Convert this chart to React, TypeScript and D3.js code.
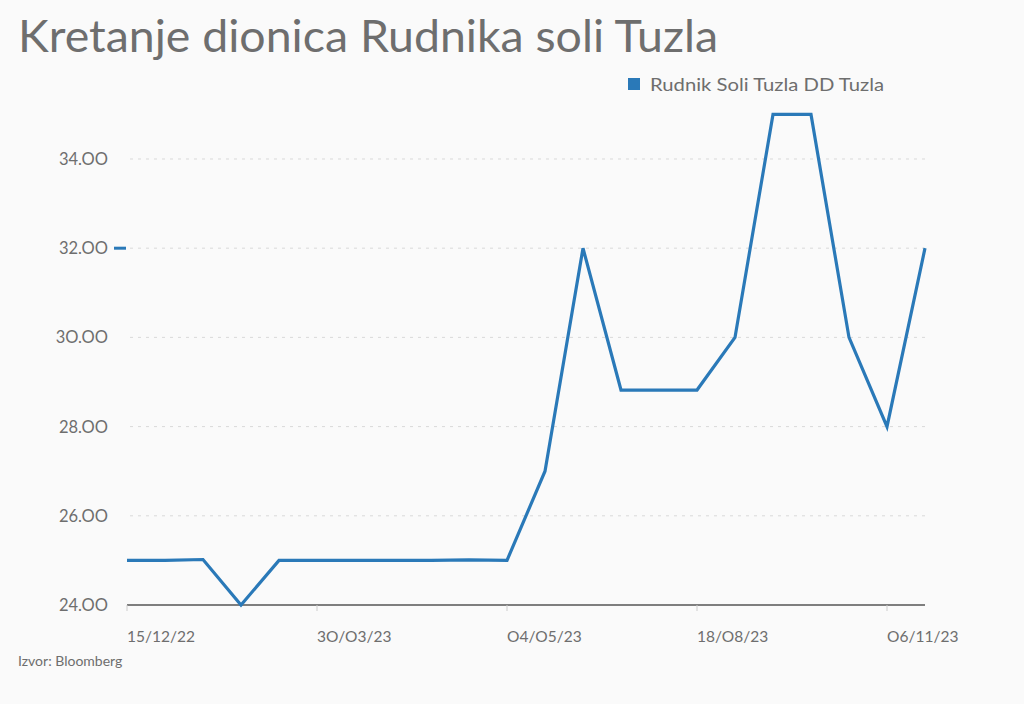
import React from "react";
import * as d3 from "d3";

const title = "Kretanje dionica Rudnika soli Tuzla";
const seriesName = "Rudnik Soli Tuzla DD Tuzla";
const source = "Izvor: Bloomberg";
const values = [25, 25, 25.02, 24, 25, 25, 25, 25, 25, 25.01, 25, 27, 32, 28.82, 28.82, 28.82, 30, 35, 35, 30, 28, 32];
const tickIdx = [0, 5, 10, 15, 20];
const tickLabels = ["15/12/22", "3O/O3/23", "O4/O5/23", "18/O8/23", "O6/11/23"];
const yTicks = [24, 26, 28, 30, 32, 34];

const W = 1024, H = 704;
const LINE = "#2a79b8";
const TXT = "#6e6e6e";
const FONT = "Lato, 'Noto Sans', sans-serif";

export default function App() {
  const x = d3.scaleLinear().domain([0, values.length - 1]).range([127, 925]);
  const y = d3.scaleLinear().domain([24, 34]).range([605, 159]);
  const line = d3.line<number>().x((_, i) => x(i)).y((d) => y(d));
  const last = values[values.length - 1];
  return (
    <svg width={W} height={H} style={{ position: "absolute", left: 0, top: 0, background: "#fafafa" }} fontFamily={FONT}>
      <rect width={W} height={H} fill="#fafafa" />
      <text x={18} y={52} fontSize={45} fill={TXT} textLength={700} lengthAdjust="spacingAndGlyphs">{title}</text>
      <rect x={628} y={78} width={12} height={12} fill={LINE} />
      <text x={650} y={91} fontSize={18} fill={TXT} textLength={234} lengthAdjust="spacingAndGlyphs">{seriesName}</text>
      {yTicks.map((t) => (
        <g key={t}>
          {t !== 24 && (
            <line x1={130} x2={925} y1={y(t)} y2={y(t)} stroke="#d9d9d9" strokeWidth={1} strokeDasharray="3,5" />
          )}
          <text x={108} y={y(t) + 6} fontSize={16.5} fill={TXT} textAnchor="end">{t.toFixed(2).replace(/0/g, "O")}</text>
        </g>
      ))}
      <line x1={114} x2={126} y1={y(last)} y2={y(last)} stroke={LINE} strokeWidth={3} />
      <line x1={127} x2={925} y1={y(24)} y2={y(24)} stroke="#555" strokeWidth={1.5} />
      {tickIdx.map((ti, k) => (
        <g key={ti}>
          <line x1={x(ti)} x2={x(ti)} y1={y(24)} y2={y(24) + 6} stroke="#ccc" strokeWidth={1} />
          <text x={x(ti)} y={642} fontSize={15.5} fill={TXT}>{tickLabels[k]}</text>
        </g>
      ))}
      <path d={line(values) || ""} fill="none" stroke={LINE} strokeWidth={3.2} strokeLinejoin="miter" />
      <text x={18} y={666} fontSize={14} fill={TXT}>{source}</text>
    </svg>
  );
}
